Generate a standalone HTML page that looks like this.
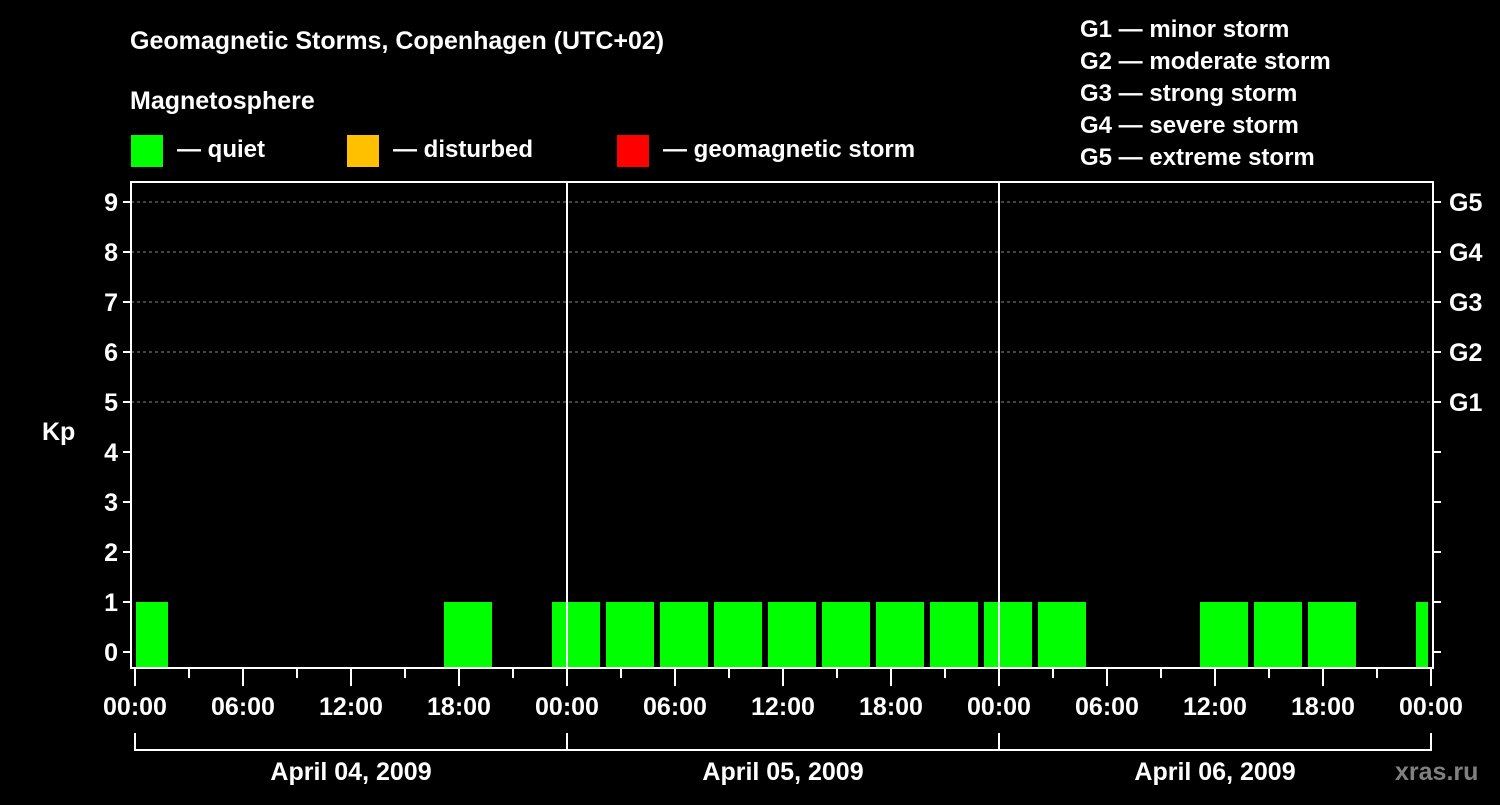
<!DOCTYPE html>
<html><head><meta charset="utf-8"><style>
body{margin:0;background:#000;width:1500px;height:800px;overflow:hidden}
svg text{font-family:"Liberation Sans",sans-serif;font-weight:bold;fill:#fff}
</style></head><body>
<svg id="chart" width="1500" height="800">
<text x="130" y="49" font-size="25">Geomagnetic Storms, Copenhagen (UTC+02)</text>
<text x="130" y="109" font-size="25">Magnetosphere</text>
<g><rect x="131" y="135" width="32" height="32" fill="#00ff00"/><text x="177" y="157" font-size="24">— quiet</text></g>
<g><rect x="347" y="135" width="32" height="32" fill="#ffc000"/><text x="393" y="157" font-size="24">— disturbed</text></g>
<g><rect x="617" y="135" width="32" height="32" fill="#ff0000"/><text x="663" y="157" font-size="24">— geomagnetic storm</text></g>
<g font-size="24">
<text x="1080" y="37">G1 — minor storm</text><text x="1080" y="69">G2 — moderate storm</text><text x="1080" y="101">G3 — strong storm</text><text x="1080" y="133">G4 — severe storm</text><text x="1080" y="165">G5 — extreme storm</text></g>
<text x="42" y="440" font-size="25">Kp</text>
<text x="1395" y="780" font-size="25" style="fill:#808080">xras.ru</text>
<g id="grid"></g><g id="bars"></g><g id="axes"></g>
</svg>
<script>
const kpValues=[1,null,null,null,null,null,1,null,1,1,1,1,1,1,1,1,1,1,null,null,1,1,1,null,1];
const yTicks=[0,1,2,3,4,5,6,7,8,9];
const gLabels=["G1","G2","G3","G4","G5"];
const hourLabels=["00:00","06:00","12:00","18:00"];
const dayLabels=["April 04, 2009","April 05, 2009","April 06, 2009"];
const NS="http://www.w3.org/2000/svg";
const L=131,R=1433,T=182,B=668,X0=135,DAY=432,START_H=-1;
const y=v=>652-v*50;
const x=h=>X0+h*DAY/24;
function mk(p,t,a){const e=document.createElementNS(NS,t);for(const k in a)e.setAttribute(k,a[k]);p.appendChild(e);return e;}
const grid=document.getElementById('grid'),bars=document.getElementById('bars'),axes=document.getElementById('axes');
[5,6,7,8,9].forEach(v=>{const l=mk(grid,'line',{x1:L,x2:R,y1:y(v),y2:y(v),stroke:'#888','stroke-dasharray':'3,3','stroke-width':1});

});
kpValues.forEach((v,i)=>{if(v==null)return;
let a=x(START_H+i*3)+3,b=x(START_H+i*3+3)-3;a=Math.max(a,L+5);b=Math.min(b,R-5);
const c=v>=5?'#ff0000':(v>=4?'#ffc000':'#00ff00');
const r=mk(bars,'rect',{x:a,y:y(v),width:b-a,height:B-1-y(v),fill:c});

});
mk(axes,'rect',{x:L,y:T,width:R-L,height:B-T,fill:'none',stroke:'#fff','stroke-width':2});
for(let d=1;d<3;d++)mk(axes,'line',{x1:x(24*d),x2:x(24*d),y1:T,y2:B,stroke:'#fff','stroke-width':2});
yTicks.forEach(v=>{mk(axes,'line',{x1:L-8,x2:L,y1:y(v),y2:y(v),stroke:'#fff','stroke-width':2});
mk(axes,'line',{x1:R,x2:R+8,y1:y(v),y2:y(v),stroke:'#fff','stroke-width':2});
const t=mk(axes,'text',{x:L-13,y:y(v)+9,'font-size':25,'text-anchor':'end'});t.textContent=v;

});
gLabels.forEach((g,i)=>{const t=mk(axes,'text',{x:1449,y:y(5+i)+9,'font-size':25});t.textContent=g;

});
for(let h=0;h<=72;h+=3){const major=h%6==0;mk(axes,'line',{x1:x(h),x2:x(h),y1:B,y2:B+(major?18:10),stroke:'#fff','stroke-width':2});
if(major){const t=mk(axes,'text',{x:x(h),y:715,'font-size':25,'text-anchor':'middle'});t.textContent=hourLabels[(h/6)%4];

}}
dayLabels.forEach((d,i)=>{const a=x(24*i),b=x(24*i+24);
mk(axes,'path',{d:`M${a} 733V750H${b}V733`,fill:'none',stroke:'#fff','stroke-width':2});
const t=mk(axes,'text',{x:(a+b)/2,y:780,'font-size':25,'text-anchor':'middle'});t.textContent=d;

});
</script>
</body></html>
